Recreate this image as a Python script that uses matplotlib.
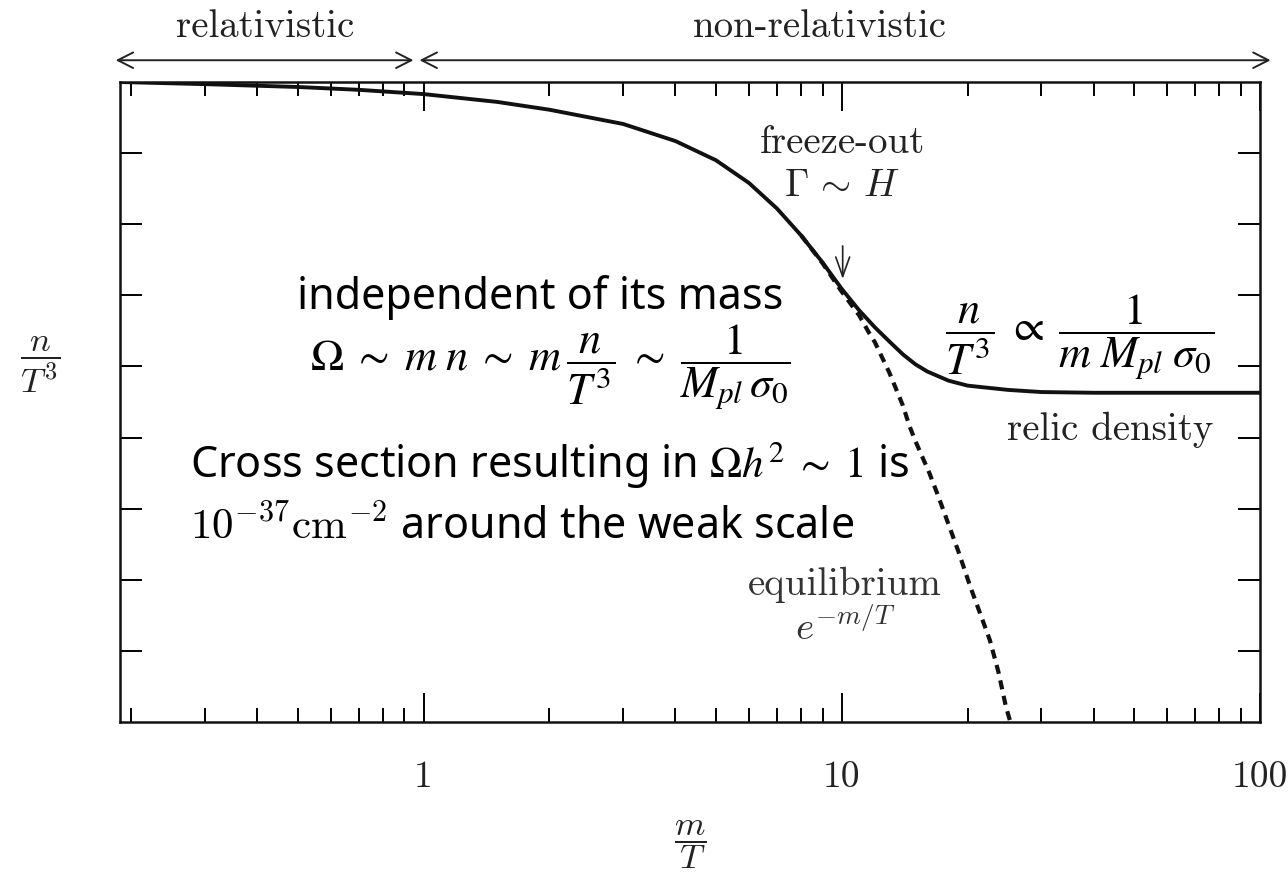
import matplotlib
matplotlib.use("Agg")
import matplotlib.pyplot as plt
import numpy as np

plt.rcParams['mathtext.fontset'] = 'cm'
plt.rcParams['axes.unicode_minus'] = False

# ---- data ----
x_solid = [0.188, 0.3, 0.5, 0.7, 1, 1.5, 2, 3, 4, 5, 6, 7, 8, 9, 10, 11, 12, 13,
           14, 15, 16, 18, 20, 25, 30, 40, 60, 100]
y_solid = [9.0, 8.97, 8.93, 8.89, 8.83, 8.72, 8.61, 8.41, 8.17, 7.90, 7.58, 7.22,
           6.84, 6.46, 6.09, 5.79, 5.55, 5.35, 5.17, 5.03, 4.93, 4.80, 4.73,
           4.67, 4.64, 4.63, 4.63, 4.63]
x_equil = [8, 9, 10, 11, 11.6, 12, 13, 14, 14.5, 15, 16.2, 17, 18.1, 19, 20.3,
           21.5, 22.6, 23.7, 24.7, 25.3]
y_equil = [6.84, 6.45, 6.05, 5.72, 5.48, 5.34, 4.91, 4.45, 4.17, 3.95, 3.50, 3.18,
           2.74, 2.40, 1.90, 1.50, 1.15, 0.70, 0.21, 0.0]
x_major = [1, 10, 100]
x_major_labels = ['1', '10', '100']
x_minor = [0.2, 0.3, 0.4, 0.5, 0.6, 0.7, 0.8, 0.9,
           2, 3, 4, 5, 6, 7, 8, 9, 20, 30, 40, 50, 60, 70, 80, 90]
y_ticks = [1, 2, 3, 4, 5, 6, 7, 8]
x_range = [0.188, 100]
y_range = [0, 9]

W, H = 1288, 884
fig = plt.figure(figsize=(W / 100, H / 100), dpi=100)
ax = fig.add_axes([120 / W, 1 - 722 / H, 1140 / W, 640 / H])


def px(x, y):
    return (x / W, 1 - y / H)


ax.set_xscale('log')
ax.set_xlim(*x_range)
ax.set_ylim(*y_range)

ax.plot(x_solid, y_solid, color='#111111', lw=2.8, solid_capstyle='round',
        solid_joinstyle='round', zorder=3)
ax.plot(x_equil, y_equil, color='#111111', lw=3.0, dashes=(2.2, 1.6), zorder=2)

ax.set_xticks(x_major)
ax.set_xticklabels(x_major_labels, fontfamily='cmr10', fontsize=27, color='#222222')
ax.set_xticks(x_minor, minor=True)
ax.xaxis.set_minor_formatter(matplotlib.ticker.NullFormatter())
ax.set_yticks(y_ticks)
ax.set_yticklabels([])
ax.tick_params(axis='x', which='major', direction='in', length=21, width=1.4,
               top=True, bottom=True, pad=28)
ax.tick_params(axis='x', which='minor', direction='in', length=10, width=1.4,
               top=True, bottom=True)
ax.tick_params(axis='y', which='major', direction='in', length=16, width=1.4,
               left=True, right=True)
ax.tick_params(axis='y', which='minor', left=False, right=False)
for s in ax.spines.values():
    s.set_linewidth(1.8)
    s.set_color('#111111')

# top arrows
tr = ax.get_xaxis_transform()
yar = 1.034
arrow_kw = dict(arrowstyle='<->,head_length=0.55,head_width=0.28',
                lw=1.4, color='#222222', shrinkA=0, shrinkB=0, mutation_scale=20)
ax.annotate('', xy=(0.946, yar), xytext=(0.1836, yar), xycoords=tr,
            arrowprops=arrow_kw, annotation_clip=False)
ax.annotate('', xy=(106, yar), xytext=(0.978, yar), xycoords=tr,
            arrowprops=arrow_kw, annotation_clip=False)

cm_fs = 28
fig.text(*px(265, 27), 'relativistic', fontfamily='cmr10', fontsize=cm_fs,
         ha='center', va='center', color='#222222')
fig.text(*px(820, 27), 'non-relativistic', fontfamily='cmr10', fontsize=cm_fs,
         ha='center', va='center', color='#222222')

# freeze-out
fig.text(*px(842, 143), 'freeze-out', fontfamily='cmr10', fontsize=cm_fs,
         ha='center', va='center', color='#222222')
fig.text(*px(842, 185), r'$\Gamma\,\sim\,H$', fontsize=cm_fs,
         ha='center', va='center', color='#222222')
ax.annotate('', xy=(10.05, (722 - 279) / 71.1), xytext=(10.05, (722 - 246) / 71.1),
            arrowprops=dict(arrowstyle='->,head_length=0.7,head_width=0.25',
                            lw=1.2, color='#222222', shrinkA=0, shrinkB=0,
                            mutation_scale=20))

fig.text(*px(1110, 430), 'relic density', fontfamily='cmr10', fontsize=cm_fs,
         ha='center', va='center', color='#222222')
fig.text(*px(845, 585), 'equilibrium', fontfamily='cmr10', fontsize=cm_fs,
         ha='center', va='center', color='#333333')
fig.text(*px(845, 628), r'$e^{-m/T}$', fontsize=cm_fs,
         ha='center', va='center', color='#333333')

# axis labels
fig.text(*px(40, 365), r'$\dfrac{n}{T^3}$', fontsize=25, ha='center', va='center',
         color='#222222')
fig.text(*px(690, 845), r'$\dfrac{m}{T}$', fontsize=25, ha='center', va='center',
         color='#222222')

# overlay annotations
fs = 31
fig.text(*px(297, 298), 'independent of its mass', fontfamily='Noto Sans',
         fontsize=fs, ha='left', va='center', color='black')
fig.text(*px(310, 367),
         r'$\Omega\;\sim\;m\;n\;\sim\;m\,\dfrac{n}{T^3}\;\sim\;\dfrac{1}{M_{pl}\,\sigma_0}$',
         fontsize=32, ha='left', va='center', color='black', math_fontfamily='stix')
fig.text(*px(945, 337), r'$\dfrac{n}{T^3}\;\propto\;\dfrac{1}{m\;M_{pl}\;\sigma_0}$',
         fontsize=32, ha='left', va='center', color='black', math_fontfamily='stix')
fig.text(*px(190, 465), r'Cross section resulting in $\Omega h^2\;\sim\;1$ is',
         fontfamily='Noto Sans', fontsize=fs, ha='left', va='center', color='black',
         math_fontfamily='stix')
fig.text(*px(190, 528), r'$10^{-37}\mathrm{cm}^{-2}$ around the weak scale',
         fontfamily='Noto Sans', fontsize=fs, ha='left', va='center', color='black',
         math_fontfamily='cm')

fig.savefig('out.png', dpi=100, facecolor='white')
